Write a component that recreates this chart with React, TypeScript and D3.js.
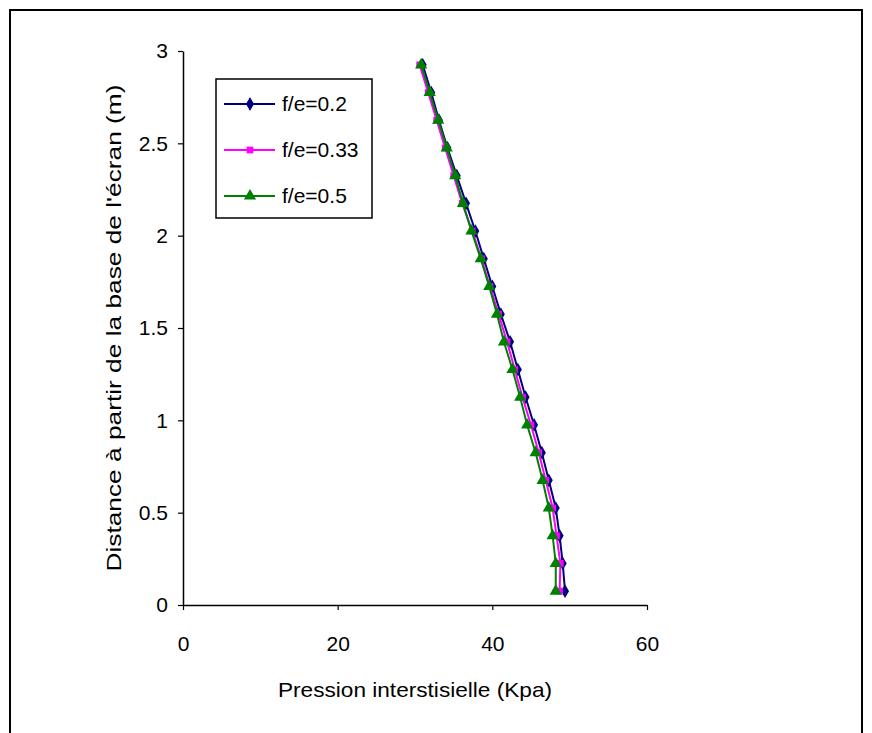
import React, { useEffect, useRef } from 'react';
import * as d3 from 'd3';

// distance from the base of the screen (m)
const distances = [0.075, 0.225, 0.375, 0.525, 0.675, 0.825, 0.975, 1.125, 1.275, 1.425,
  1.575, 1.725, 1.875, 2.025, 2.175, 2.325, 2.475, 2.625, 2.775, 2.925];

const pressureFe02 = [49.4, 49.1, 48.7, 48.2, 47.3, 46.4, 45.4, 44.3, 43.3, 42.3,
  41.1, 40.0, 38.9, 37.8, 36.6, 35.4, 34.2, 33.1, 32.1, 31.0];
const pressureFe033 = [48.7, 48.8, 48.3, 47.8, 46.9, 46.0, 45.0, 43.9, 42.9, 41.9,
  40.8, 39.7, 38.6, 37.4, 36.1, 35.0, 33.9, 32.8, 31.7, 30.6];
const pressureFe05 = [48.2, 48.2, 47.8, 47.3, 46.5, 45.6, 44.5, 43.6, 42.6, 41.5,
  40.6, 39.6, 38.5, 37.3, 36.2, 35.2, 34.1, 33.0, 31.9, 30.8];

const seriesNames = ['f/e=0.2', 'f/e=0.33', 'f/e=0.5'];
const xTicks = [0, 20, 40, 60];
const yTicks = [0, 0.5, 1, 1.5, 2, 2.5, 3];

const App = () => {
  const svgRef = useRef<SVGSVGElement>(null);

  useEffect(() => {
    const width = 872;
    const height = 733;
    const font = '"Liberation Sans", Arial, sans-serif';
    const fs = 21;

    d3.select(svgRef.current).selectAll('*').remove();
    const svg = d3.select(svgRef.current)
      .attr('width', width)
      .attr('height', height);

    svg.append('rect').attr('width', width).attr('height', height).attr('fill', 'white');

    // outer frame
    svg.append('path')
      .attr('d', 'M10,740 L10,10 L862,10 L862,740')
      .attr('fill', 'none')
      .attr('stroke', 'black')
      .attr('stroke-width', 2);

    const x = d3.scaleLinear().domain([0, 60]).range([183, 647]);
    const y = d3.scaleLinear().domain([0, 3]).range([605, 51]);

    // axes
    const xAxis = svg.append('g')
      .attr('transform', 'translate(0,605)')
      .call(d3.axisBottom(x).tickValues(xTicks).tickSize(5).tickSizeOuter(0).tickPadding(26));
    const yAxis = svg.append('g')
      .attr('transform', 'translate(183,0)')
      .call(d3.axisLeft(y).tickValues(yTicks).tickSize(5).tickSizeOuter(0).tickPadding(10)
        .tickFormat(d => String(d)));
    [xAxis, yAxis].forEach(a => {
      a.select('.domain').attr('stroke', 'black').attr('stroke-width', 1.5);
      a.selectAll('.tick line').attr('stroke', 'black').attr('stroke-width', 1.2);
      a.selectAll('.tick text').attr('font-family', font).attr('font-size', fs).attr('fill', 'black');
    });

    svg.append('text')
      .attr('x', 415).attr('y', 697)
      .attr('text-anchor', 'middle')
      .attr('font-family', font).attr('font-size', fs)
      .attr('textLength', 274).attr('lengthAdjust', 'spacingAndGlyphs')
      .text('Pression interstisielle (Kpa)');

    svg.append('text')
      .attr('transform', 'translate(121,328) rotate(-90)')
      .attr('text-anchor', 'middle')
      .attr('font-family', font).attr('font-size', fs)
      .attr('textLength', 487).attr('lengthAdjust', 'spacingAndGlyphs')
      .text("Distance à partir de la base de l'écran (m)");

    const series = [
      { name: seriesNames[0], values: pressureFe02, color: '#000080', symbol: d3.symbolDiamond, size: 55 },
      { name: seriesNames[1], values: pressureFe033, color: '#FF00FF', symbol: d3.symbolSquare, size: 45 },
      { name: seriesNames[2], values: pressureFe05, color: '#008000', symbol: d3.symbolTriangle, size: 65 },
    ];

    const line = d3.line<[number, number]>()
      .x(d => x(d[0]))
      .y(d => y(d[1]));

    series.forEach(s => {
      const pts: [number, number][] = s.values.map((v, i) => [v, distances[i]]);
      svg.append('path')
        .datum(pts)
        .attr('d', line)
        .attr('fill', 'none')
        .attr('stroke', s.color)
        .attr('stroke-width', 2);
      svg.append('g').selectAll('path')
        .data(pts)
        .enter().append('path')
        .attr('d', d3.symbol().type(s.symbol).size(s.size)())
        .attr('transform', d => `translate(${x(d[0])},${y(d[1])})`)
        .attr('fill', s.color);
    });

    // legend
    const legend = svg.append('g');
    legend.append('rect')
      .attr('x', 216).attr('y', 79).attr('width', 156).attr('height', 139)
      .attr('fill', 'white').attr('stroke', 'black').attr('stroke-width', 1.5);
    series.forEach((s, i) => {
      const ly = 104 + i * 46;
      legend.append('line')
        .attr('x1', 224).attr('x2', 275).attr('y1', ly).attr('y2', ly)
        .attr('stroke', s.color).attr('stroke-width', 2);
      legend.append('path')
        .attr('d', d3.symbol().type(s.symbol).size(s.size)())
        .attr('transform', `translate(250,${ly})`)
        .attr('fill', s.color);
      legend.append('text')
        .attr('x', 282).attr('y', ly).attr('dy', '0.35em')
        .attr('font-family', font).attr('font-size', fs)
        .text(s.name);
    });
  }, []);

  return (
    <div style={{ position: 'absolute', left: 0, top: 0 }}>
      <svg ref={svgRef}></svg>
    </div>
  );
};

export default App;
